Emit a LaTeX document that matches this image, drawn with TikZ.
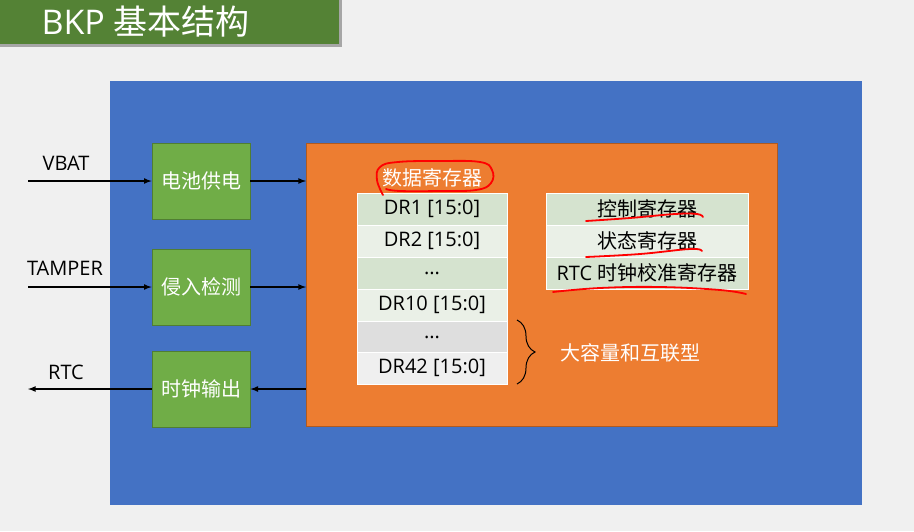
\documentclass[tikz,border=0pt]{standalone}
\usepackage{fontspec}
\setmainfont{Open Sans}
\newfontfamily\cjk{Noto Sans CJK SC}
\usetikzlibrary{arrows,decorations.pathreplacing}
\definecolor{bggray}{HTML}{F0F0F0}
\definecolor{titlegreen}{HTML}{548235}
\definecolor{boardblue}{HTML}{4472C4}
\definecolor{corange}{HTML}{ED7D31}
\definecolor{corangeline}{HTML}{AE5A21}
\definecolor{cgreen}{HTML}{70AD47}
\definecolor{cgreenline}{HTML}{507E32}
\definecolor{rowA}{HTML}{D5E3CF}
\definecolor{rowB}{HTML}{EAF0E7}
\definecolor{rowC}{HTML}{DEDEDE}
\definecolor{rowD}{HTML}{EFEFEF}
\definecolor{inkred}{HTML}{FF0000}
\tikzset{
  unitbox/.style={draw=cgreenline,fill=cgreen,line width=0.8pt,minimum width=98pt,minimum height=76pt,
    text=white,font=\cjk\fontsize{20}{22}\selectfont},
  regrow/.style={draw=white,line width=0.8pt,minimum width=150pt,minimum height=32pt,
    text=black,font=\fontsize{20}{22}\selectfont},
  ctrlrow/.style={regrow,minimum width=202pt},
  sig/.style={line width=1.6pt,-latex},
  siglbl/.style={text=black,font=\fontsize{20}{22}\selectfont},
  redink/.style={-,inkred,line width=1.8pt,line cap=round}
}
\begin{document}
\begin{tikzpicture}[x=1pt,y=-1pt]
  % page and title
  \fill[bggray] (0,0) rectangle (914,531);
  \useasboundingbox (0,0) rectangle (914,531);
  \fill[gray!70] (0,0) rectangle (342,47);
  \fill[titlegreen] (0,0) rectangle (339,44);
  \node[anchor=west,text=white,font=\fontsize{34}{37}\selectfont] (title) at (38,22) {BKP {\cjk 基本结构}};

  % backup domain and register block
  \fill[boardblue] (110,81) rectangle (862,505);
  \draw[corangeline,fill=corange,line width=0.8pt] (306,143) rectangle (777,426);
  \coordinate (blockL) at (306,0);

  % function blocks
  \node[unitbox] (bat) at (201,181) {电池供电};
  \node[unitbox] (tamp) at (201,287) {侵入检测};
  \node[unitbox] (clk) at (201,389) {时钟输出};

  % pins
  \coordinate (vbat) at (28,181);
  \coordinate (tamper) at (28,287);
  \coordinate (rtc) at (28,389);
  \node[siglbl] (vbatlbl) at (66,163) {VBAT};
  \node[siglbl] (tamperlbl) at (65,268) {TAMPER};
  \node[siglbl] (rtclbl) at (66,372) {RTC};
  \draw[sig] (vbat) -- (bat.west);
  \draw[sig] (tamper) -- (tamp.west);
  \draw[sig] (clk.west) -- (rtc);
  \draw[sig] (bat.east) -- (bat.east -| blockL);
  \draw[sig] (tamp.east) -- (tamp.east -| blockL);
  \draw[sig] (clk.east -| blockL) -- (clk.east);

  % data registers
  \node[text=white,font=\cjk\fontsize{20}{22}\selectfont] (drtitle) at (432,178) {数据寄存器};
  \node[regrow,fill=rowA] (dr1) at (432,209) {DR1 [15:0]};
  \node[regrow,fill=rowB] (dr2) at (432,241) {DR2 [15:0]};
  \node[regrow,fill=rowA] (dots1) at (432,273) {...};
  \node[regrow,fill=rowB] (dr10) at (432,305) {DR10 [15:0]};
  \node[regrow,fill=rowC] (dots2) at (432,337) {...};
  \node[regrow,fill=rowD] (dr42) at (432,368) {DR42 [15:0]};

  % control registers
  \node[ctrlrow,fill=rowA,font=\cjk\fontsize{20}{22}\selectfont] (cr) at (647,209) {控制寄存器};
  \node[ctrlrow,fill=rowB,font=\cjk\fontsize{20}{22}\selectfont] (sr) at (647,241) {状态寄存器};
  \node[ctrlrow,fill=rowA] (calr) at (647,273) {RTC {\cjk\fontsize{20}{22}\selectfont 时钟校准寄存器}};

  % high density brace
  \coordinate (bracetop) at (517,320);
  \coordinate (bracebot) at (517,384);
  \draw[decorate,decoration={brace,amplitude=18pt},line width=1pt] (bracetop) -- (bracebot);
  \node[anchor=west,text=white,font=\cjk\fontsize{20}{22}\selectfont] (hd) at (557,353) {大容量和互联型};

  % red marks
  \draw[redink] plot[smooth, tension=.7] coordinates {(383,195) (377,180) (380,167) (398,162) (440,161) (480,162) (492,170) (491,183) (476,190) (440,191) (400,191) (386,189)};
  \draw[redink] plot[smooth, tension=.7] coordinates {(586,221) (630,218) (675,214) (697,214) (703,217)};
  \draw[redink] plot[smooth, tension=.7] coordinates {(586,257) (640,254) (690,249) (702,251)};
  \draw[redink] plot[smooth, tension=.7] coordinates {(553,292) (600,288) (660,287) (720,290) (746,294)};
\end{tikzpicture}
\end{document}
